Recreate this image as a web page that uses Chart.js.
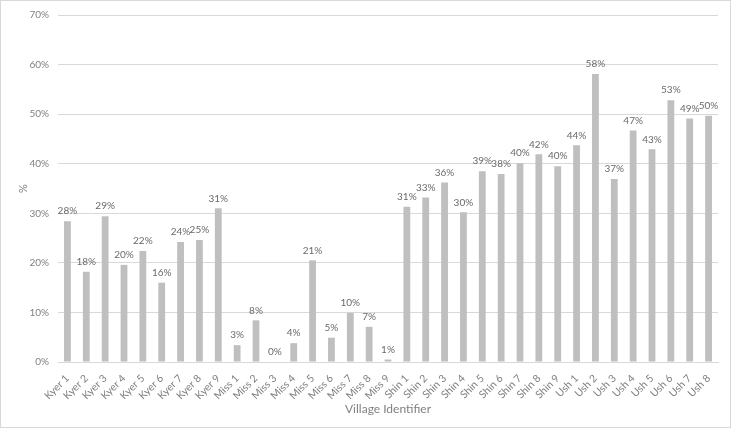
<!DOCTYPE html>
<html>
<head>
<meta charset="utf-8">
<script src="https://cdn.jsdelivr.net/npm/chart.js@4/dist/chart.umd.min.js"></script>
<style>
  html, body { margin: 0; padding: 0; background: #fff; }
  #wrap { width: 731px; height: 428px; position: relative; }
</style>
</head>
<body>
<div id="wrap"><canvas id="chart"></canvas></div>
<script>
// ---------- Data ----------
const villages = [
  'Kyer 1','Kyer 2','Kyer 3','Kyer 4','Kyer 5','Kyer 6','Kyer 7','Kyer 8','Kyer 9',
  'Miss 1','Miss 2','Miss 3','Miss 4','Miss 5','Miss 6','Miss 7','Miss 8','Miss 9',
  'Shin 1','Shin 2','Shin 3','Shin 4','Shin 5','Shin 6','Shin 7','Shin 8','Shin 9',
  'Ush 1','Ush 2','Ush 3','Ush 4','Ush 5','Ush 6','Ush 7','Ush 8'
];
const percentValues = [
  28.4, 18.2, 29.4, 19.6, 22.4, 16.0, 24.2, 24.6, 31.0,
  3.4, 8.4, 0.1, 3.8, 20.5, 4.9, 9.9, 7.1, 0.5,
  31.3, 33.2, 36.2, 30.2, 38.5, 37.9, 40.1, 41.9, 39.5,
  43.7, 58.1, 36.9, 46.7, 42.9, 52.8, 49.1, 49.7
];
const yTicks = [0, 10, 20, 30, 40, 50, 60, 70];

const FONT = 'Lato, "Open Sans", sans-serif';
const labelGray = '#6a6a6a';
const tickGray = '#808080';
const gridGray = '#d9d9d9';
const barGray = '#bfbfbf';

// ---------- Plugins ----------
const frame = {
  id: 'frame',
  beforeDraw(chart){
    const c = chart.ctx;
    c.save();
    c.fillStyle = '#fff';
    c.fillRect(0, 0, chart.width, chart.height);
    c.strokeStyle = gridGray;
    c.lineWidth = 1;
    c.strokeRect(0.5, 0.5, chart.width - 1, chart.height - 1);
    c.restore();
  }
};

// rounded % above each bar
const barLabels = {
  id: 'barLabels',
  afterDatasetsDraw(chart){
    const c = chart.ctx;
    const meta = chart.getDatasetMeta(0);
    c.save();
    c.font = '10px ' + FONT;
    c.fillStyle = labelGray;
    c.textAlign = 'center';
    c.textBaseline = 'bottom';
    meta.data.forEach((bar, i) => {
      c.fillText(Math.round(percentValues[i]) + '%', bar.x, bar.y - 5);
    });
    c.restore();
  }
};

// ---------- Chart ----------
new Chart(document.getElementById('chart'), {
  type: 'bar',
  data: {
    labels: villages,
    datasets: [{
      data: percentValues,
      backgroundColor: barGray,
      borderWidth: 0,
      barPercentage: 0.36,
      categoryPercentage: 1
    }]
  },
  options: {
    responsive: true,
    maintainAspectRatio: false,
    animation: false,
    layout: { padding: { left: 12, right: 13, top: 12, bottom: 8 } },
    plugins: { legend: { display: false }, tooltip: { enabled: false } },
    scales: {
      x: {
        grid: { display: false },
        border: { color: gridGray },
        ticks: {
          color: tickGray,
          font: { family: FONT, size: 10.5 },
          minRotation: 45,
          maxRotation: 45,
          autoSkip: false,
          padding: 2
        },
        title: {
          display: true,
          text: 'Village Identifier',
          color: tickGray,
          font: { family: FONT, size: 12 },
          padding: { top: 2, bottom: 4 }
        },
        afterFit(scale){ scale.height = 428 - 362 - 8; }
      },
      y: {
        min: 0,
        max: 70,
        afterBuildTicks(scale){ scale.ticks = yTicks.map(v => ({ value: v })); },
        grid: { color: gridGray, drawTicks: false },
        border: { display: false },
        ticks: {
          color: tickGray,
          font: { family: FONT, size: 10 },
          padding: 9,
          callback: v => v + '%'
        },
        title: {
          display: true,
          text: '%',
          color: tickGray,
          font: { family: FONT, size: 11 },
          padding: { top: 5, bottom: 0 }
        },
        afterFit(scale){ scale.width = 58 - 12; }
      }
    }
  },
  plugins: [frame, barLabels]
});
</script>
</body>
</html>
